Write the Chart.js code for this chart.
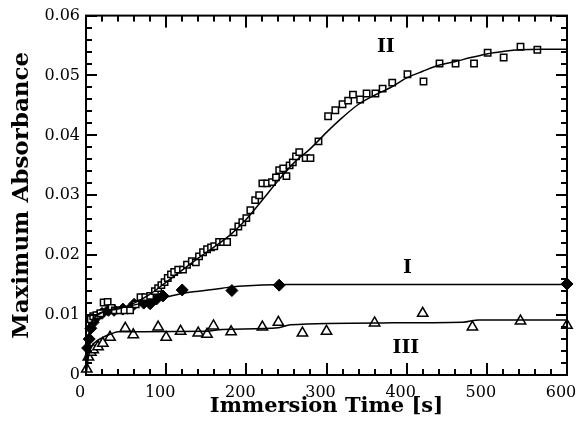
<!DOCTYPE html>
<html><head><meta charset="utf-8">
<script src="https://cdn.jsdelivr.net/npm/chart.js@4/dist/chart.umd.min.js"></script>
<style>html,body{margin:0;padding:0;background:#fff}#wrap{width:580px;height:429px}</style>
</head><body><div id="wrap"><canvas id="c" width="580" height="429"></canvas></div>
<script>
// ---- data ----
const seriesII = [[6,0.0093],[9,0.0098],[13,0.0100],[18,0.0103],[22,0.0121],[27,0.0122],[32,0.0112],[36,0.0108],[42,0.0108],[48,0.0108],[55,0.0108],[62,0.0118],[68,0.0130],[74,0.0130],[80,0.0132],[86,0.0140],[90,0.0145],[94,0.0150],[98,0.0155],[102,0.0162],[106,0.0168],[110,0.0172],[115,0.0176],[121,0.0176],[126,0.0184],[132,0.0190],[137,0.0188],[141,0.0198],[146,0.0205],[151,0.0210],[156,0.0213],[160,0.0215],[166,0.0222],[171,0.0222],[176,0.0222],[184,0.0238],[190,0.0248],[195,0.0255],[200,0.0262],[205,0.0275],[211,0.0292],[216,0.0300],[220,0.0320],[226,0.0320],[232,0.0322],[237,0.0330],[241,0.0342],[246,0.0345],[250,0.0332],[254,0.0350],[258,0.0355],[262,0.0365],[266,0.0372],[274,0.0362],[280,0.0362],[290,0.0390],[302,0.0432],[311,0.0442],[320,0.0452],[327,0.0458],[333,0.0468],[342,0.0460],[350,0.0470],[361,0.0470],[370,0.0478],[382,0.0488],[401,0.0502],[421,0.0490],[441,0.0520],[461,0.0520],[484,0.0520],[501,0.0538],[521,0.0530],[542,0.0548],[563,0.0543]];
const fitII = [[0,0],[3,0.005],[6,0.008],[10,0.0095],[20,0.0105],[40,0.011],[60,0.012],[80,0.0135],[100,0.0155],[120,0.0175],[140,0.0195],[160,0.0214],[180,0.0234],[200,0.0260],[220,0.0292],[240,0.0325],[260,0.0355],[280,0.0378],[300,0.0405],[320,0.0430],[340,0.0452],[360,0.0467],[380,0.0480],[400,0.0496],[420,0.0507],[440,0.0517],[460,0.0523],[480,0.0530],[500,0.0536],[520,0.0540],[540,0.0543],[570,0.0544],[600,0.0544]];
const seriesI = [[2,0.0045],[4,0.0060],[6,0.0078],[9,0.0088],[14,0.0098],[20,0.0103],[28,0.0108],[35,0.0108],[46,0.0110],[60,0.0118],[72,0.0120],[80,0.0119],[88,0.0127],[96,0.0132],[120,0.0142],[182,0.0141],[241,0.0150],[600,0.0152]];
const fitI = [[0,0],[3,0.006],[6,0.0085],[10,0.0095],[20,0.0104],[30,0.0109],[50,0.0114],[70,0.0120],[100,0.0130],[120,0.0136],[140,0.0140],[170,0.0145],[190,0.0148],[250,0.0151],[600,0.0151]];
const seriesIII = [[1,0.0010],[3,0.0030],[6,0.0038],[9,0.0042],[15,0.0047],[21,0.0053],[30,0.0063],[49,0.0078],[59,0.0067],[90,0.0080],[100,0.0063],[118,0.0073],[140,0.0070],[151,0.0068],[159,0.0082],[181,0.0072],[220,0.0080],[240,0.0088],[270,0.0070],[300,0.0073],[360,0.0087],[420,0.0103],[482,0.0080],[542,0.0090],[600,0.0083]];
const fitIII = [[0,0],[3,0.003],[6,0.0045],[10,0.0053],[20,0.0062],[30,0.0068],[40,0.0072],[150,0.0073],[170,0.0076],[240,0.0079],[255,0.0084],[370,0.0087],[470,0.0088],[490,0.0092],[600,0.0092]];
const curveLabels = [{text:'II', x:374, y:0.0547},{text:'I', x:401, y:0.0178},{text:'III', x:399, y:0.0045}];
const xTicks = [0,100,200,300,400,500,600];
const yTicks = [0,0.01,0.02,0.03,0.04,0.05,0.06];

const pts = a => a.map(p => ({x:p[0], y:p[1]}));
const serif = "'DejaVu Serif', 'Liberation Serif', serif";

const frameTicks = {
  id:'frameTicks',
  afterDatasetsDraw(chart){
    const ctx = chart.ctx, a = chart.chartArea;
    const xs = chart.scales.x, ys = chart.scales.y;
    ctx.save();
    ctx.fillStyle = '#000';
    for (let v = 0; v <= 600; v += 20) {
      const px = Math.round(xs.getPixelForValue(v));
      const L = (v % 100 === 0) ? 12 : 6;
      ctx.fillRect(px - 1, a.bottom - L, 2, L);
      ctx.fillRect(px - 1, a.top, 2, L);
    }
    for (let i = 0; i <= 30; i++) {
      const py = Math.round(ys.getPixelForValue(i * 0.002));
      const L = (i % 5 === 0) ? 11 : 6;
      ctx.fillRect(a.left, py - 1, L, 2);
      ctx.fillRect(a.right - L, py - 1, L, 2);
    }
    ctx.strokeStyle = '#000';
    ctx.lineWidth = 2;
    ctx.strokeRect(a.left, a.top, a.right - a.left, a.bottom - a.top);
    ctx.font = "bold 19px " + serif;
    ctx.textAlign = 'center'; ctx.textBaseline = 'middle';
    curveLabels.forEach(l => ctx.fillText(l.text, xs.getPixelForValue(l.x), ys.getPixelForValue(l.y)));
    ctx.restore();
  }
};

new Chart(document.getElementById('c'), {
  type:'scatter',
  data:{ datasets:[
    {data:pts(fitII), showLine:true, pointRadius:0, borderColor:'#000', borderWidth:1.5, cubicInterpolationMode:'monotone', clip:false},
    {data:pts(fitI), showLine:true, pointRadius:0, borderColor:'#000', borderWidth:1.5, cubicInterpolationMode:'monotone', clip:false},
    {data:pts(fitIII), showLine:true, pointRadius:0, borderColor:'#000', borderWidth:1.5, cubicInterpolationMode:'monotone', clip:false},
    {data:pts(seriesII), pointStyle:'rect', pointRadius:4.5, backgroundColor:'#fff', borderColor:'#000', borderWidth:1.5, clip:false},
    {data:pts(seriesIII), pointStyle:'triangle', pointRadius:6, backgroundColor:'#fff', borderColor:'#000', borderWidth:1.5, clip:false},
    {data:pts(seriesI), pointStyle:'rectRot', pointRadius:6, backgroundColor:'#000', borderColor:'#000', borderWidth:1, clip:false}
  ]},
  options:{
    responsive:false, animation:false, events:[],
    layout:{padding:{top:14, right:13, left:8, bottom:0}},
    plugins:{legend:{display:false}, tooltip:{enabled:false}},
    scales:{
      x:{type:'linear', min:0, max:600,
         afterBuildTicks: s => { s.ticks = xTicks.map(v => ({value:v})); },
         afterFit: s => { s.height = 54; s.paddingRight = 0; s.paddingLeft = 0; },
         grid:{display:false, drawTicks:false}, border:{display:false},
         ticks:{color:'#000', padding:8, labelOffset:-6, font:{family:serif, size:16}, maxRotation:0, callback:v => String(v)},
         title:{display:true, text:'Immersion Time [s]', color:'#000', font:{family:serif, size:21, weight:'bold'}, padding:{top:0, bottom:10}}},
      y:{type:'linear', min:0, max:0.06,
         afterBuildTicks: s => { s.ticks = yTicks.map(v => ({value:v})); },
         afterFit: s => { s.width = 78; },
         grid:{display:false, drawTicks:false}, border:{display:false},
         ticks:{color:'#000', padding:6, font:{family:serif, size:16}, callback:v => v === 0 ? '0' : v.toFixed(2)},
         title:{display:true, text:'Maximum Absorbance', color:'#000', font:{family:serif, size:23, weight:'bold'}, padding:{top:0, bottom:4}}}
    }
  },
  plugins:[frameTicks]
});
</script></body></html>
